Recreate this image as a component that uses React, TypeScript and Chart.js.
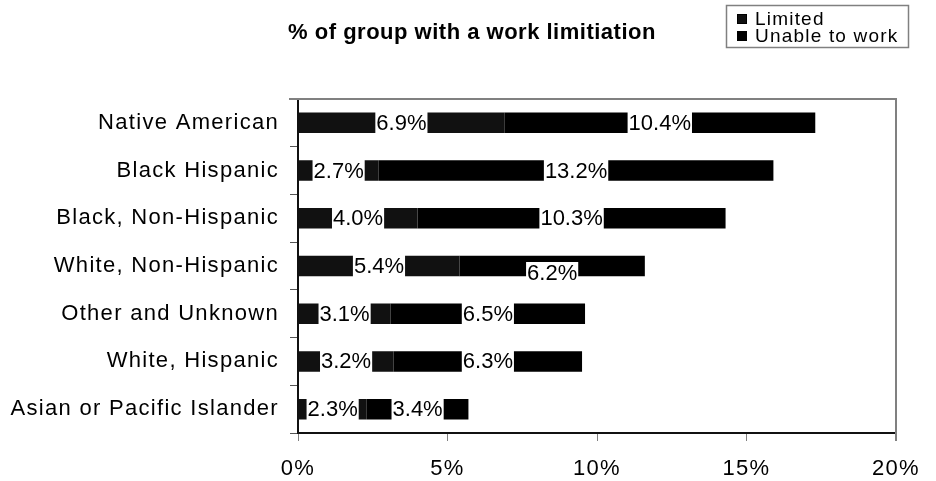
import React, { useEffect, useRef } from "react";
import { Chart, registerables } from "chart.js";

Chart.register(...registerables);

const categories = [
  "Native American",
  "Black Hispanic",
  "Black, Non-Hispanic",
  "White, Non-Hispanic",
  "Other and Unknown",
  "White, Hispanic",
  "Asian or Pacific Islander",
];
const limited = [6.9, 2.7, 4.0, 5.4, 3.1, 3.2, 2.3];
const unableToWork = [10.4, 13.2, 10.3, 6.2, 6.5, 6.3, 3.4];
const xTicks = [0, 5, 10, 15, 20];
const seriesNames = ["Limited", "Unable to work"];
const titleText = "% of group with a work limitiation";

const FONT = "'Liberation Sans', Arial, sans-serif";
const COLORS = ["#111111", "#000000"];

const decorPlugin = {
  id: "decor",
  beforeDraw(chart: any) {
    chart.ctx.letterSpacing = "1.3px";
  },
  afterDatasetsDraw(chart: any) {
    const ctx = chart.ctx;
    ctx.save();
    ctx.font = `22px ${FONT}`;
    ctx.letterSpacing = "0px";
    ctx.textAlign = "left";
    ctx.textBaseline = "middle";
    chart.data.datasets.forEach((ds: any, di: number) => {
      const meta = chart.getDatasetMeta(di);
      meta.data.forEach((bar: any, i: number) => {
        const v = ds.data[i];
        const txt = v.toFixed(1) + "%";
        const w = ctx.measureText(txt).width;
        const cx = (bar.x + bar.base) / 2;
        let cy = bar.y;
        if (di === 1 && categories[i] === "White, Non-Hispanic") cy += 7;
        const h = 22;
        ctx.fillStyle = "#ffffff";
        ctx.fillRect(cx - w / 2 - 1, cy - h / 2, w + 2, h);
        ctx.fillStyle = "#000000";
        ctx.fillText(txt, cx - w / 2, cy + 1);
      });
    });
    ctx.restore();
  },
  afterDraw(chart: any) {
    const ctx = chart.ctx;
    const a = chart.chartArea;
    ctx.save();
    // plot frame top & right
    ctx.strokeStyle = "#808080";
    ctx.lineWidth = 2;
    ctx.beginPath();
    ctx.moveTo(a.left - 9, a.top);
    ctx.lineTo(a.right, a.top);
    ctx.lineTo(a.right, a.bottom + 8);
    ctx.stroke();
    // title
    ctx.fillStyle = "#000";
    ctx.font = `bold 22px ${FONT}`;
    ctx.letterSpacing = "0.5px";
    ctx.textAlign = "center";
    ctx.textBaseline = "middle";
    ctx.fillText(titleText, 472, 33);
    // legend
    ctx.strokeStyle = "#808080";
    ctx.lineWidth = 1.5;
    ctx.strokeRect(726.5, 5.5, 182, 42);
    ctx.font = `19px ${FONT}`;
    ctx.letterSpacing = "1.2px";
    ctx.textAlign = "left";
    seriesNames.forEach((name, i) => {
      const y = 19 + i * 17;
      ctx.fillStyle = COLORS[i];
      ctx.fillRect(737, y - 5, 10, 10);
      ctx.strokeStyle = "#000";
      ctx.lineWidth = 1;
      ctx.strokeRect(737.5, y - 4.5, 9, 9);
      ctx.fillStyle = "#000";
      ctx.fillText(name, 755, y + 1);
    });
    ctx.restore();
  },
};

export default function App() {
  const ref = useRef<HTMLCanvasElement>(null);
  useEffect(() => {
    if (!ref.current) return;
    const chart = new Chart(ref.current, {
      type: "bar",
      data: {
        labels: categories,
        datasets: [
          {
            label: seriesNames[0],
            data: limited,
            backgroundColor: COLORS[0],
            borderWidth: 0,
            barPercentage: 0.43,
            categoryPercentage: 1,
          },
          {
            label: seriesNames[1],
            data: unableToWork,
            backgroundColor: COLORS[1],
            borderWidth: 0,
            barPercentage: 0.43,
            categoryPercentage: 1,
          },
        ],
      },
      options: {
        indexAxis: "y",
        responsive: false,
        animation: false,
        devicePixelRatio: 1,
        layout: { padding: { top: 99, right: 40, left: 0, bottom: 0 } },
        plugins: {
          legend: { display: false },
          title: { display: false },
          tooltip: { enabled: false },
        },
        scales: {
          y: {
            stacked: true,
            afterFit: (s: any) => {
              s.width = 298;
            },
            grid: {
              drawOnChartArea: false,
              drawTicks: true,
              tickLength: 8,
              color: "#555555",
              offset: true,
            },
            border: { color: "#111111", width: 2 },
            ticks: {
              color: "#000",
              padding: 11,
              font: { family: FONT, size: 22 },
            },
          },
          x: {
            stacked: true,
            min: 0,
            max: 20,
            afterFit: (s: any) => {
              s.height = 48;
            },
            afterBuildTicks: (s: any) => {
              s.ticks = xTicks.map((v) => ({ value: v }));
            },
            grid: {
              drawOnChartArea: false,
              drawTicks: true,
              tickLength: 8,
              color: "#808080",
            },
            border: { color: "#111111", width: 2 },
            ticks: {
              color: "#000",
              padding: 15,
              maxRotation: 0,
              font: { family: FONT, size: 22 },
              callback: (v: any) => v + "%",
            },
          },
        },
      },
      plugins: [decorPlugin],
    });
    return () => chart.destroy();
  }, []);
  return (
    <div style={{ position: "fixed", left: 0, top: 0, width: 936, height: 481, background: "#fff" }}>
      <canvas ref={ref} width={936} height={481} style={{ display: "block" }} />
    </div>
  );
}
